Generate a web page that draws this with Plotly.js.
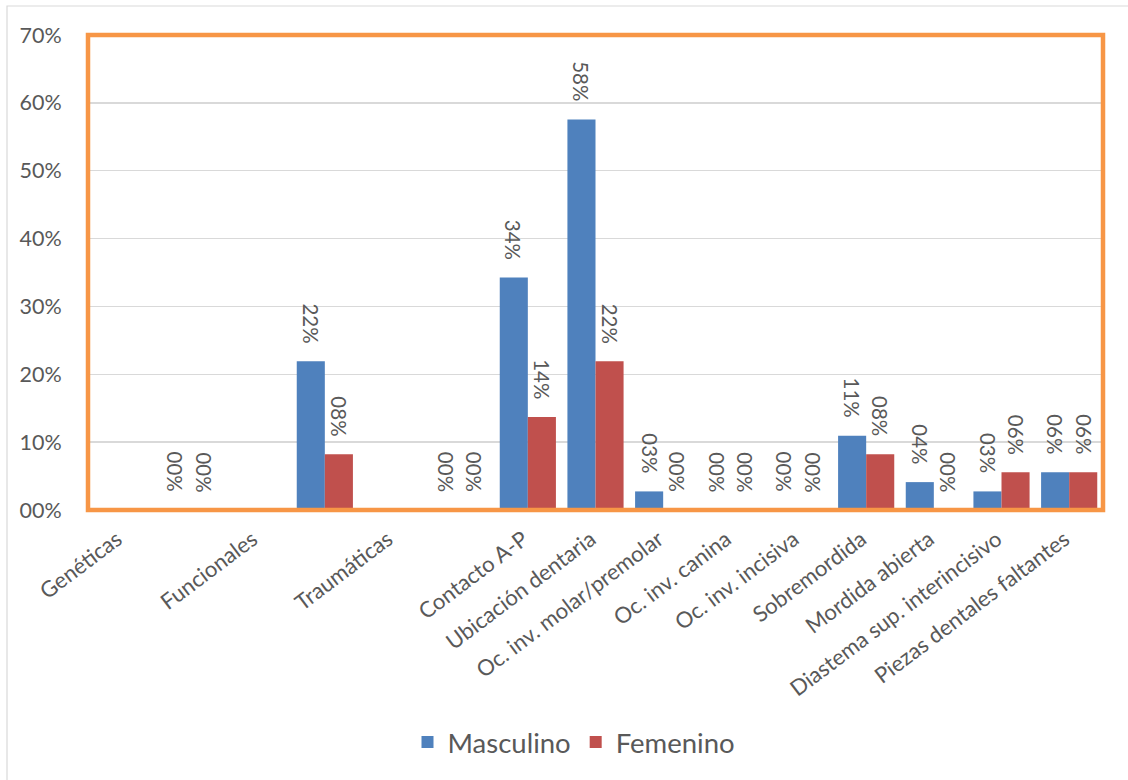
<!DOCTYPE html>
<html>
<head>
<meta charset="utf-8">
<script src="https://cdn.plot.ly/plotly-3.0.1.min.js"></script>
<style>
  html, body { margin: 0; padding: 0; background: #ffffff; }
  #chart { width: 1128px; height: 780px; }
</style>
</head>
<body>
<div id="chart"></div>
<script>
// Category names shown along the x axis
const categoryLabels = [
  'Genéticas', 'Funcionales', 'Traumáticas', 'Contacto A-P', 'Ubicación dentaria',
  'Oc. inv. molar/premolar', 'Oc. inv. canina', 'Oc. inv. incisiva', 'Sobremordida',
  'Mordida abierta', 'Diastema sup. interincisivo', 'Piezas dentales faltantes'
];
// Slot under which each category name is printed
const labelSlots = [0, 2, 4, 6, 7, 8, 9, 10, 11, 12, 13, 14];

// Share of cases per bar slot (null = empty slot)
const masculino = [null, 0, null, 0.2192, null, 0, 0.3425, 0.5753, 0.0274, 0, 0, 0.1096, 0.0411, 0.0274, 0.0555];
const femenino  = [null, 0, null, 0.0822, null, 0, 0.1370, 0.2192, 0, 0, 0, 0.0822, 0, 0.0555, 0.0555];

// Y axis ticks
const yTickValues = [0, 0.1, 0.2, 0.3, 0.4, 0.5, 0.6, 0.7];
const yTickLabels = ['00%', '10%', '20%', '30%', '40%', '50%', '60%', '70%'];

const BLUE = '#4F81BD';
const RED = '#C0504D';
const ORANGE = '#F79646';
const TEXT = '#595959';
const GRID = '#D9D9D9';
const FONT = 'Lato, "Open Sans", sans-serif';

const slotX = masculino.map((_, i) => i);

const BARGAP = 0.17;
const half = (1 - BARGAP) / 4;
const LABEL_NUDGE = -0.07;   // rotated labels end just at the slot centre

function pct(v) {
  return String(Math.round(v * 100)).padStart(2, '0') + '%';
}

const traces = [
  { type: 'bar', name: 'Masculino', x: slotX, y: masculino, marker: { color: BLUE }, hoverinfo: 'none' },
  { type: 'bar', name: 'Femenino', x: slotX, y: femenino, marker: { color: RED }, hoverinfo: 'none' }
];

const annotations = [];
[[masculino, -half], [femenino, half]].forEach(([series, dx]) => {
  series.forEach((v, i) => {
    if (v === null) return;
    annotations.push({
      x: i + dx, y: v, xref: 'x', yref: 'y',
      text: pct(v), textangle: 90, showarrow: false,
      xanchor: 'center', yanchor: 'bottom', yshift: 16,
      font: { family: FONT, size: 20.5, color: TEXT }
    });
  });
});

const L = 88, R = 25, T = 35, B = 270;
const W = 1128 - L - R, H = 780 - T - B;

const layout = {
  width: 1128, height: 780,
  margin: { l: L, r: R, t: T, b: B, pad: 0 },
  paper_bgcolor: '#ffffff', plot_bgcolor: '#ffffff',
  font: { family: FONT, color: TEXT },
  barmode: 'group', bargap: BARGAP, bargroupgap: 0,
  showlegend: true,
  legend: {
    orientation: 'h', x: (574 - L) / W, xanchor: 'center',
    y: (510 - 742) / H, yanchor: 'middle',
    font: { family: FONT, size: 27.5, color: TEXT },
    bgcolor: 'rgba(0,0,0,0)'
  },
  xaxis: {
    type: 'linear', range: [-0.5, 14.5], fixedrange: true,
    tickmode: 'array', tickvals: labelSlots.map(s => s + LABEL_NUDGE), ticktext: categoryLabels,
    tickangle: -37, tickfont: { family: FONT, size: 22, color: TEXT },
    ticks: 'outside', ticklen: 7, tickcolor: 'rgba(0,0,0,0)',
    showgrid: false, zeroline: false,
    showline: true, linecolor: GRID, linewidth: 1
  },
  yaxis: {
    range: [0, 0.7], fixedrange: true,
    tickmode: 'array', tickvals: yTickValues, ticktext: yTickLabels,
    tickfont: { family: FONT, size: 21.5, color: TEXT },
    ticks: 'outside', ticklen: 21, tickcolor: 'rgba(0,0,0,0)',
    showgrid: true, gridcolor: GRID, gridwidth: 1.3,
    zeroline: false, showline: false
  },
  annotations: annotations,
  shapes: [
    // chart frame
    { type: 'rect', xref: 'paper', yref: 'paper', layer: 'below',
      x0: (7 - L) / W, x1: (1140 - L) / W, y0: (510 - 795) / H, y1: (510 - 6) / H,
      line: { color: GRID, width: 1.2 }, fillcolor: 'rgba(0,0,0,0)' },
    // plot area outline
    { type: 'rect', xref: 'paper', yref: 'paper', layer: 'above',
      x0: 0, x1: 1, y0: 0, y1: 1,
      line: { color: ORANGE, width: 4.5 }, fillcolor: 'rgba(0,0,0,0)' }
  ]
};

Plotly.newPlot('chart', traces, layout, { displayModeBar: false, staticPlot: true });
</script>
</body>
</html>
